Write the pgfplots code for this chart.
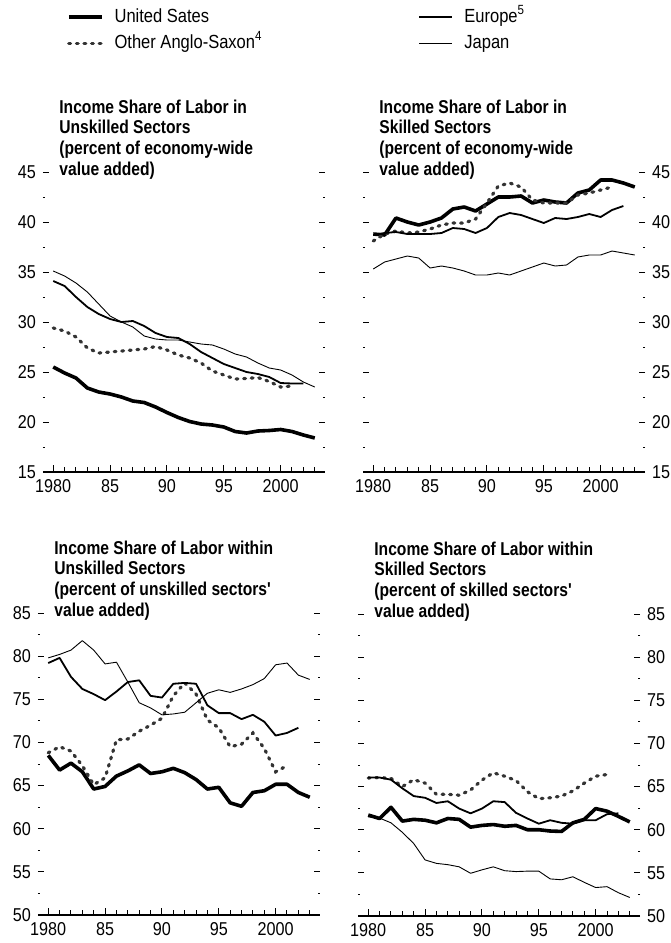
\documentclass[border=0pt]{standalone}
\usepackage{fontspec}
\setmainfont{Liberation Sans}[FakeStretch=0.87]
\newfontfamily\ttl{Liberation Sans}[FakeStretch=0.84]
\usepackage{pgfplots}
\pgfplotsset{compat=1.18}

\pgfplotsset{
  panel/.style={
    scale only axis, width=141pt, height=150pt,
    xmin=1979.1, xmax=2003.9,
    axis line style={draw=none},
    xtick={1980,1985,...,2000}, xticklabels={1980,85,90,95,2000},
    minor xtick={1980,...,2003},
    xtick pos=left,
    tick align=inside,
    xtick style={/pgfplots/major tick length=3.5pt, /pgfplots/minor tick length=2.5pt, black, line width=0.5pt},
    ytick style={/pgfplots/major tick length=2.8pt, /pgfplots/minor tick length=1.2pt, black, line width=0.5pt},
    tick label style={font=\fontsize{9.3}{11}\selectfont},
    /pgf/number format/assume math mode=true,
    clip=false,
  },
  top/.style={ymin=15, ymax=45, ytick={15,20,...,45}, minor ytick={17.5,22.5,...,42.5}},
  bot/.style={ymin=50, ymax=85, ytick={50,55,...,85}, minor ytick={52.5,57.5,...,82.5}, height=151pt},
  us/.style={black, line width=1.8pt, line join=round},
  oas/.style={black!80, line width=1.6pt, line cap=round, dash pattern=on 0.9pt off 2.9pt},
  eu/.style={black, line width=0.9pt, line join=round},
  jp/.style={black, line width=0.45pt, line join=round},
}
\newcommand{\ptitle}[1]{\node[anchor=base west, inner sep=0pt, font=\ttl\bfseries\fontsize{9.3}{10.3}\selectfont]
  at ([xshift=8pt,yshift=-1.5pt]rel axis cs:0,1) {\begin{tabular}[b]{@{}l@{}}#1\end{tabular}};
  \draw[line width=0.6pt] (rel axis cs:0,0) -- (rel axis cs:1,0);}

\begin{document}
\begin{tikzpicture}
\useasboundingbox (0,0) rectangle (335pt,-471.5pt);

% top left
\begin{axis}[panel, top, at={(21.5pt,-236pt)}, anchor=south west,
  legend columns=2, transpose legend, legend cell align=left,
  legend image code/.code={\draw[#1] (0pt,0pt) -- (16.5pt,0pt);},
  legend style={at={(rel axis cs:0.085,1.473)}, anchor=west, draw=none, fill=none,
    inner sep=0pt, outer sep=0pt, font=\fontsize{9.5}{11}\selectfont,
    nodes={inner sep=0pt, text height=7pt, text depth=2pt},
    row sep=4pt, column sep=0pt,
    /tikz/every odd column/.append style={column sep=5.5pt}}]
\addplot[us] coordinates {(1980,25.5) (1981,24.9) (1982,24.4) (1983,23.4) (1984,23.0) (1985,22.8) (1986,22.5) (1987,22.1) (1988,21.95) (1989,21.5) (1990,20.95) (1991,20.45) (1992,20.05) (1993,19.8) (1994,19.7) (1995,19.5) (1996,19.05) (1997,18.9) (1998,19.1) (1999,19.15) (2000,19.25) (2001,19.05) (2002,18.7) (2003,18.4)};
\addlegendentry{\makebox[152pt][l]{United Sates}}
\addplot[oas] coordinates {(1980,29.4) (1981,29.1) (1982,28.5) (1983,27.4) (1984,26.9) (1985,27.0) (1986,27.1) (1987,27.2) (1988,27.3) (1989,27.55) (1990,27.2) (1991,26.7) (1992,26.4) (1993,25.9) (1994,25.1) (1995,24.7) (1996,24.3) (1997,24.35) (1998,24.45) (1999,24.05) (2000,23.5) (2001,23.6)};
\addlegendentry{\makebox[152pt][l]{Other Anglo-Saxon\textsuperscript{4}}}
\addplot[eu] coordinates {(1980,34.1) (1981,33.6) (1982,32.5) (1983,31.5) (1984,30.8) (1985,30.3) (1986,30.0) (1987,30.1) (1988,29.6) (1989,28.9) (1990,28.5) (1991,28.4) (1992,27.8) (1993,27.0) (1994,26.4) (1995,25.8) (1996,25.4) (1997,25.0) (1998,24.8) (1999,24.5) (2000,23.9) (2001,23.85) (2002,23.85)};
\addlegendentry{Europe\textsuperscript{5}}
\addplot[jp] coordinates {(1980,35.1) (1981,34.6) (1982,33.9) (1983,33.0) (1984,31.8) (1985,30.6) (1986,30.0) (1987,29.5) (1988,28.6) (1989,28.3) (1990,28.2) (1991,28.2) (1992,28.0) (1993,27.8) (1994,27.7) (1995,27.3) (1996,26.8) (1997,26.5) (1998,25.9) (1999,25.4) (2000,25.2) (2001,24.7) (2002,24.0) (2003,23.5)};
\addlegendentry{Japan}
\ptitle{Income Share of Labor in\\Unskilled Sectors\\(percent of economy-wide\\value added)}
\end{axis}

% top right
\begin{axis}[panel, top, at={(181.5pt,-236pt)}, anchor=south west, yticklabel pos=right]
\addplot[us] coordinates {(1980,38.8) (1981,38.7) (1982,40.4) (1983,40.0) (1984,39.7) (1985,40.0) (1986,40.4) (1987,41.3) (1988,41.5) (1989,41.1) (1990,41.8) (1991,42.5) (1992,42.5) (1993,42.6) (1994,41.9) (1995,42.2) (1996,42.0) (1997,41.9) (1998,42.9) (1999,43.2) (2000,44.2) (2001,44.2) (2002,43.9) (2003,43.5)};
\addplot[oas] coordinates {(1980,38.1) (1981,38.8) (1982,39.1) (1983,38.9) (1984,39.0) (1985,39.3) (1986,39.7) (1987,39.9) (1988,39.9) (1989,40.3) (1990,41.9) (1991,43.6) (1992,43.9) (1993,43.5) (1994,42.2) (1995,41.9) (1996,41.9) (1997,41.9) (1998,42.7) (1999,42.9) (2000,43.2) (2001,43.5)};
\addplot[eu] coordinates {(1980,38.7) (1981,38.9) (1982,39.0) (1983,38.8) (1984,38.8) (1985,38.8) (1986,38.9) (1987,39.4) (1988,39.3) (1989,38.9) (1990,39.4) (1991,40.5) (1992,40.9) (1993,40.7) (1994,40.3) (1995,39.9) (1996,40.4) (1997,40.3) (1998,40.5) (1999,40.8) (2000,40.5) (2001,41.2) (2002,41.6)};
\addplot[jp] coordinates {(1980,35.3) (1981,36.0) (1982,36.3) (1983,36.6) (1984,36.4) (1985,35.4) (1986,35.6) (1987,35.4) (1988,35.1) (1989,34.7) (1990,34.7) (1991,34.9) (1992,34.7) (1993,35.1) (1994,35.5) (1995,35.9) (1996,35.6) (1997,35.7) (1998,36.5) (1999,36.7) (2000,36.7) (2001,37.1) (2002,36.9) (2003,36.7)};
\ptitle{Income Share of Labor in\\Skilled Sectors\\(percent of economy-wide\\value added)}
\end{axis}

% bottom left
\begin{axis}[panel, bot, at={(19pt,-457.5pt)}, anchor=south west]
\addplot[us] coordinates {(1980,68.5) (1981,66.8) (1982,67.6) (1983,66.6) (1984,64.6) (1985,64.9) (1986,66.1) (1987,66.7) (1988,67.4) (1989,66.4) (1990,66.6) (1991,67.0) (1992,66.5) (1993,65.7) (1994,64.6) (1995,64.8) (1996,63.0) (1997,62.6) (1998,64.2) (1999,64.4) (2000,65.15) (2001,65.15) (2002,64.2) (2003,63.65)};
\addplot[oas] coordinates {(1980,68.8) (1981,69.5) (1982,69.0) (1983,67.3) (1984,65.1) (1985,65.9) (1986,70.3) (1987,70.4) (1988,71.3) (1989,72.0) (1990,72.8) (1991,75.4) (1992,76.9) (1993,75.6) (1994,72.6) (1995,71.7) (1996,69.5) (1997,69.8) (1998,71.1) (1999,69.3) (2000,66.6) (2001,67.3)};
\addplot[eu] coordinates {(1980,79.2) (1981,79.8) (1982,77.6) (1983,76.2) (1984,75.6) (1985,74.9) (1986,75.9) (1987,77.0) (1988,77.2) (1989,75.4) (1990,75.2) (1991,76.8) (1992,76.9) (1993,76.8) (1994,74.3) (1995,73.4) (1996,73.4) (1997,72.7) (1998,73.2) (1999,72.4) (2000,70.8) (2001,71.1) (2002,71.7)};
\addplot[jp] coordinates {(1980,79.8) (1981,80.2) (1982,80.7) (1983,81.8) (1984,80.7) (1985,79.1) (1986,79.3) (1987,77.0) (1988,74.6) (1989,74.0) (1990,73.2) (1991,73.3) (1992,73.5) (1993,74.6) (1994,75.7) (1995,76.1) (1996,75.8) (1997,76.2) (1998,76.7) (1999,77.4) (2000,79.0) (2001,79.2) (2002,77.8) (2003,77.3)};
\ptitle{Income Share of Labor within\\Unskilled Sectors\\(percent of unskilled sectors'\\value added)}
\end{axis}

% bottom right
\begin{axis}[panel, bot, at={(179pt,-458pt)}, anchor=south west, yticklabel pos=right]
\addplot[us] coordinates {(1980,61.7) (1981,61.3) (1982,62.6) (1983,61.0) (1984,61.2) (1985,61.1) (1986,60.8) (1987,61.3) (1988,61.2) (1989,60.3) (1990,60.5) (1991,60.6) (1992,60.4) (1993,60.5) (1994,60.0) (1995,60.0) (1996,59.85) (1997,59.8) (1998,60.8) (1999,61.2) (2000,62.45) (2001,62.15) (2002,61.55) (2003,60.9)};
\addplot[oas] coordinates {(1980,66.0) (1981,66.05) (1982,65.95) (1983,65.0) (1984,65.8) (1985,65.4) (1986,64.1) (1987,64.1) (1988,64.0) (1989,64.6) (1990,65.75) (1991,66.6) (1992,66.2) (1993,65.7) (1994,64.4) (1995,63.6) (1996,63.7) (1997,63.9) (1998,64.5) (1999,65.4) (2000,66.2) (2001,66.4)};
\addplot[eu] coordinates {(1980,66.05) (1981,66.05) (1982,65.8) (1983,64.8) (1984,63.9) (1985,63.7) (1986,63.1) (1987,63.3) (1988,62.45) (1989,61.9) (1990,62.45) (1991,63.3) (1992,63.2) (1993,61.95) (1994,61.3) (1995,60.7) (1996,61.1) (1997,60.8) (1998,60.7) (1999,61.1) (2000,61.1) (2001,61.8) (2002,61.9)};
\addplot[jp] coordinates {(1980,61.5) (1981,61.35) (1982,60.8) (1983,59.7) (1984,58.4) (1985,56.5) (1986,56.1) (1987,55.95) (1988,55.7) (1989,54.95) (1990,55.35) (1991,55.7) (1992,55.25) (1993,55.15) (1994,55.2) (1995,55.2) (1996,54.3) (1997,54.2) (1998,54.55) (1999,53.9) (2000,53.3) (2001,53.4) (2002,52.7) (2003,52.15)};
\ptitle{Income Share of Labor within\\Skilled Sectors\\(percent of skilled sectors'\\value added)}
\end{axis}
\end{tikzpicture}
\end{document}
